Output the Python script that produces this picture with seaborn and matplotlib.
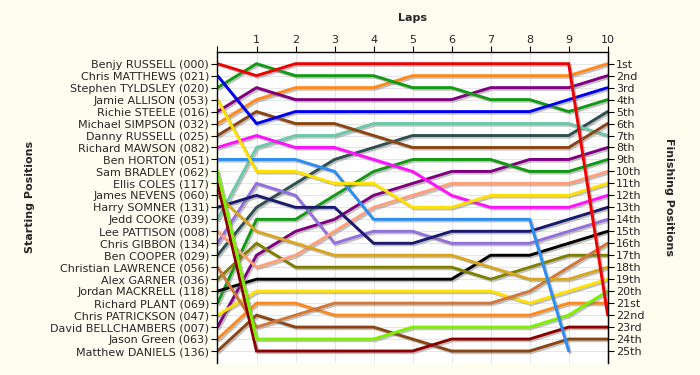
import matplotlib
matplotlib.use("Agg")
import matplotlib.pyplot as plt
import matplotlib.patheffects as pe
import numpy as np
import pandas as pd
import seaborn as sns

# ---------------- data ----------------
laps = list(range(11))
lap_labels = ["", "1", "2", "3", "4", "5", "6", "7", "8", "9", "10"]

drivers = [
    "Benjy RUSSELL (000)", "Chris MATTHEWS (021)", "Stephen TYLDSLEY (020)",
    "Jamie ALLISON (053)", "Richie STEELE (016)", "Michael SIMPSON (032)",
    "Danny RUSSELL (025)", "Richard MAWSON (082)", "Ben HORTON (051)",
    "Sam BRADLEY (062)", "Ellis COLES (117)", "James NEVENS (060)",
    "Harry SOMNER (131)", "Jedd COOKE (039)", "Lee PATTISON (008)",
    "Chris GIBBON (134)", "Ben COOPER (029)", "Christian LAWRENCE (056)",
    "Alex GARNER (036)", "Jordan MACKRELL (118)", "Richard PLANT (069)",
    "Chris PATRICKSON (047)", "David BELLCHAMBERS (007)", "Jason Green (063)",
    "Matthew DANIELS (136)",
]

finish_labels = ["1st", "2nd", "3rd", "4th", "5th", "6th", "7th", "8th", "9th",
                 "10th", "11th", "12th", "13th", "14th", "15th", "16th", "17th",
                 "18th", "19th", "20th", "21st", "22nd", "23rd", "24th", "25th"]

# position of each driver at lap 0..10
benjy_russell = [1, 2, 1, 1, 1, 1, 1, 1, 1, 1, 22]
chris_matthews = [2, 6, 5, 5, 5, 5, 5, 5, 5, 4, 3]
stephen_tyldsley = [3, 1, 2, 2, 2, 3, 3, 4, 4, 5, 4]
jamie_allison = [4, 10, 10, 11, 11, 13, 13, 12, 12, 12, 11]
richie_steele = [5, 3, 4, 4, 4, 4, 4, 3, 3, 3, 2]
michael_simpson = [6, 4, 3, 3, 3, 2, 2, 2, 2, 2, 1]
danny_russell = [7, 5, 6, 6, 7, 8, 8, 8, 8, 8, 6]
richard_mawson = [8, 7, 8, 8, 9, 10, 12, 13, 13, 13, 12]
ben_horton = [9, 9, 9, 10, 14, 14, 14, 14, 14, 25, np.nan]
sam_bradley = [10, 24, 24, 24, 24, 23, 23, 23, 23, 22, 20]
ellis_coles = [11, 25, 25, 25, 25, 25, 24, 24, 24, 23, 23]
james_nevens = [12, 15, 16, 17, 17, 17, 17, 18, 19, 19, 18]
harry_somner = [13, 12, 13, 13, 16, 16, 15, 15, 15, 14, 13]
jedd_cooke = [14, 8, 7, 7, 6, 6, 6, 6, 6, 6, 7]
lee_pattison = [15, 18, 17, 15, 13, 12, 11, 11, 11, 11, 10]
chris_gibbon = [16, 11, 12, 16, 15, 15, 16, 16, 16, 15, 14]
ben_cooper = [17, 13, 11, 9, 8, 7, 7, 7, 7, 7, 5]
christian_lawrence = [18, 23, 22, 21, 21, 21, 21, 21, 20, 18, 16]
alex_garner = [19, 16, 18, 18, 18, 18, 18, 19, 18, 17, 17]
jordan_mackrell = [20, 19, 19, 19, 19, 19, 19, 17, 17, 16, 15]
richard_plant = [21, 14, 14, 12, 10, 9, 9, 9, 10, 10, 9]
chris_patrickson = [22, 20, 20, 20, 20, 20, 20, 20, 21, 20, 19]
david_bellchambers = [23, 17, 15, 14, 12, 11, 10, 10, 9, 9, 8]
jason_green = [24, 21, 21, 22, 22, 22, 22, 22, 22, 21, 21]
matthew_daniels = [25, 22, 23, 23, 23, 24, 25, 25, 25, 24, 24]

series = [benjy_russell, chris_matthews, stephen_tyldsley, jamie_allison,
          richie_steele, michael_simpson, danny_russell, richard_mawson,
          ben_horton, sam_bradley, ellis_coles, james_nevens, harry_somner,
          jedd_cooke, lee_pattison, chris_gibbon, ben_cooper,
          christian_lawrence, alex_garner, jordan_mackrell, richard_plant,
          chris_patrickson, david_bellchambers, jason_green, matthew_daniels]

colors = ["#F00000", "#0000F0", "#139A13", "#FFE000", "#800080", "#FF8A1C",
          "#8B4513", "#FF10FF", "#2B8EF0", "#7CF000", "#8B0000", "#DAA520",
          "#1A1A6E", "#6CC8A8", "#FFA07A", "#9370DB", "#2F4F4F", "#D0783A",
          "#808000", "#000000", "#139A13", "#FFE000", "#800080", "#FF8A1C",
          "#8B4513"]

# ---------------- build table ----------------
rows = []
for name, pos in zip(drivers, series):
    for lap, p in zip(laps, pos):
        rows.append({"driver": name, "lap": lap, "pos": p})
df = pd.DataFrame(rows).dropna()
palette = dict(zip(drivers, colors))

# ---------------- figure ----------------
sns.set_style("white")
plt.rcParams["font.family"] = ["DejaVu Sans"]
bg = "#FDFDF0"
fig = plt.figure(figsize=(7, 3.75), dpi=100, facecolor=bg)
ax = fig.add_axes([0.3107, 0.032, 0.8681 - 0.3107, 0.8621 - 0.032])
ax.set_facecolor("white")

sns.lineplot(data=df, x="lap", y="pos", hue="driver",
             hue_order=drivers[::-1], palette=palette, estimator=None,
             sort=False, linewidth=2.1, legend=False, ax=ax)

for ln in ax.lines:
    ln.set_path_effects([pe.SimpleLineShadow(offset=(1.2, -1.2),
                                             shadow_color="#777777", alpha=0.45),
                         pe.Normal()])
    ln.set_solid_joinstyle("miter")

ax.set_xlim(0, 10)
ax.set_ylim(26, 0)
ax.set_xticks(laps)
ax.set_xticklabels(lap_labels)
ax.xaxis.tick_top()
ax.set_yticks(range(1, 26))
ax.set_yticklabels(drivers)
ax.grid(True, color="#E6E6E6", linewidth=0.8)
ax.set_axisbelow(True)
ax.set_xlabel("")
ax.set_ylabel("")

for side in ["left", "top", "right"]:
    ax.spines[side].set_visible(True)
    ax.spines[side].set_color("black")
    ax.spines[side].set_linewidth(1.0)
ax.spines["bottom"].set_visible(False)

ax.tick_params(axis="x", which="both", top=True, bottom=False, length=4,
               width=0.8, color="black", labelsize=8, pad=1)
ax.tick_params(axis="y", which="both", left=True, length=4, width=0.8,
               color="black", labelsize=8, pad=2)

ax2 = ax.twinx()
ax2.set_ylim(26, 0)
ax2.set_yticks(range(1, 26))
ax2.set_yticklabels(finish_labels)
ax2.tick_params(axis="y", right=True, length=4, width=0.8, color="black",
                labelsize=8, pad=2)
for side in ["left", "top", "bottom"]:
    ax2.spines[side].set_visible(False)
ax2.spines["right"].set_color("black")

fig.text(0.589, 0.952, "Laps", ha="center", va="center", fontsize=8,
         fontweight="bold")
fig.text(0.043, 0.475, "Starting Positions", ha="center", va="center",
         rotation=90, fontsize=8, fontweight="bold")
fig.text(0.955, 0.475, "Finishing Positions", ha="center", va="center",
         rotation=270, fontsize=8, fontweight="bold")

fig.savefig("out.png", dpi=100, facecolor=bg)
